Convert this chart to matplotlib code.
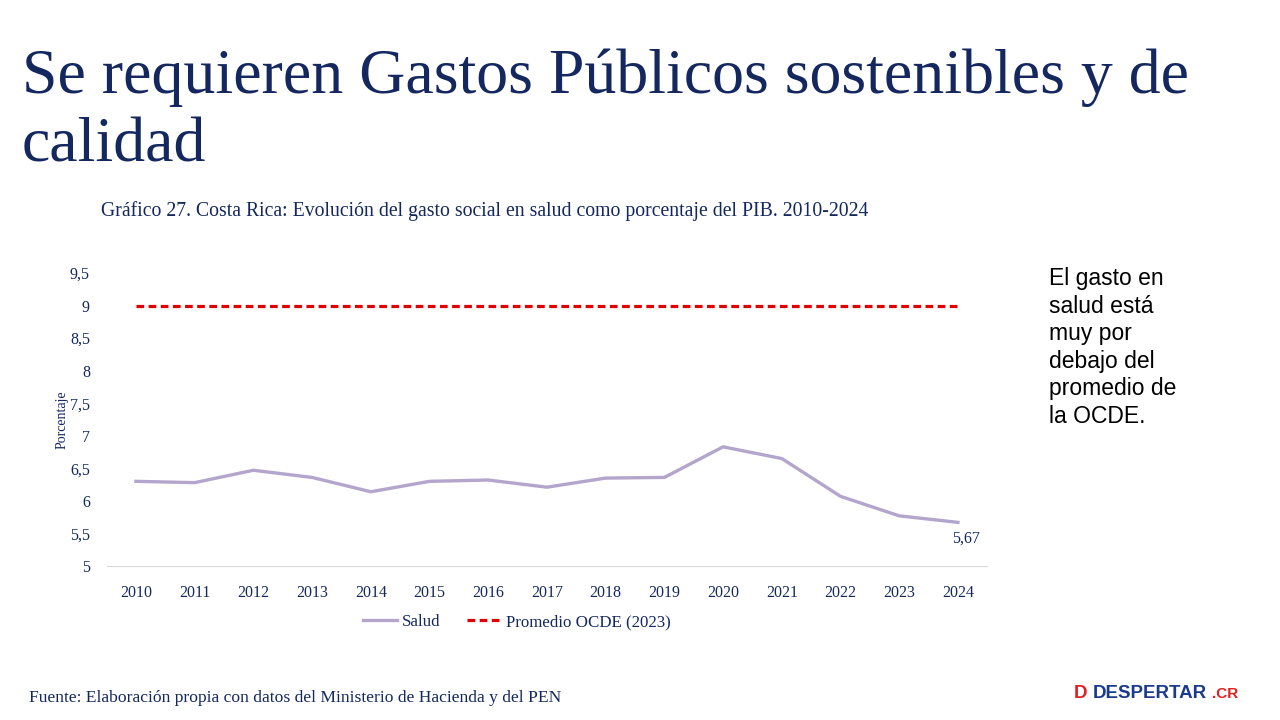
import matplotlib.pyplot as plt
from matplotlib.ticker import FuncFormatter

# data
years = [2010, 2011, 2012, 2013, 2014, 2015, 2016, 2017, 2018, 2019, 2020, 2021, 2022, 2023, 2024]
salud = [6.30, 6.28, 6.47, 6.36, 6.14, 6.30, 6.32, 6.21, 6.35, 6.36, 6.83, 6.65, 6.07, 5.77, 5.67]
ocde_2023 = [9.0] * len(years)
y_ticks = [5, 5.5, 6, 6.5, 7, 7.5, 8, 8.5, 9, 9.5]

title_lines = ["Se requieren Gastos Públicos sostenibles y de", "calidad"]
note_lines = ["El gasto en", "salud está", "muy por", "debajo del", "promedio de", "la OCDE."]

navy = "#14285F"
serif = ["Liberation Serif", "DejaVu Serif"]
sans = ["Liberation Sans", "DejaVu Sans"]

fig = plt.figure(figsize=(12.8, 7.2), dpi=100)
fig.patch.set_facecolor("white")

# title, one baseline per line
for i, line in enumerate(title_lines):
    fig.text(0.017, 1 - (93 + 68 * i) / 720, line, family=serif, fontsize=46,
             color=navy, va="baseline", ha="left")

fig.text(0.079, 0.707, "Gráfico 27. Costa Rica: Evolución del gasto social en salud como porcentaje del PIB. 2010-2024",
         family=serif, fontsize=14.2, color=navy, ha="left", va="center")

ax = fig.add_axes([0.0833, 0.2139, 0.688, 0.407])
ax.plot(years, salud, color="#B3A5CB", lw=2.4, label="Salud")
ax.plot(years, ocde_2023, color="#E00000", lw=2.3, dashes=(2.4, 1.4), label="Promedio OCDE (2023)")

ax.annotate(f"{salud[-1]:.2f}".replace(".", ","), (years[-1], salud[-1]), xytext=(-4, -6),
            textcoords="offset points", ha="left", va="top", family=serif, fontsize=11.5, color=navy)

ax.set_xlim(years[0] - 0.5, years[-1] + 0.5)
ax.set_ylim(5, 9.5)
ax.set_xticks(years)
ax.set_yticks(y_ticks)
ax.yaxis.set_major_formatter(FuncFormatter(lambda v, p: f"{v:g}".replace(".", ",")))
ax.tick_params(length=0, labelsize=11.5, colors=navy, pad=12)
for lab in ax.get_xticklabels() + ax.get_yticklabels():
    lab.set_family(serif)
ax.tick_params(axis="x", pad=14)
for s in ["top", "right", "left"]:
    ax.spines[s].set_visible(False)
ax.spines["bottom"].set_color("#D9D9D9")
ax.set_ylabel("Porcentaje", family=serif, fontsize=10, color=navy, labelpad=1)

ax.legend(loc="center", bbox_to_anchor=(0.466, -0.191), ncol=2, frameon=False,
          prop={"family": serif, "size": 12.2}, labelcolor=navy, handlelength=2.0,
          handletextpad=0.3, columnspacing=1.6)

for i, line in enumerate(note_lines):
    fig.text(0.8195, 1 - (285 + 27.6 * i) / 720, line, family=sans, fontsize=16.5,
             color="black", ha="left", va="baseline")

fig.text(0.023, 0.031, "Fuente: Elaboración propia con datos del Ministerio de Hacienda y del PEN",
         family=serif, fontsize=12.6, color=navy, ha="left", va="center")

# logo as text
fig.text(0.839, 0.031, "D", family=sans, fontsize=13.5, fontweight="bold",
         color="#E02020", ha="left", va="baseline")
fig.text(0.8535, 0.031, "DESPERTAR", family=sans, fontsize=13.5, fontweight="bold",
         color="#1A3A8A", ha="left", va="baseline")
fig.text(0.9465, 0.031, ".CR", family=sans, fontsize=11, fontweight="bold",
         color="#E02020", ha="left", va="baseline")

fig.savefig("out.png", dpi=100, facecolor="white")
